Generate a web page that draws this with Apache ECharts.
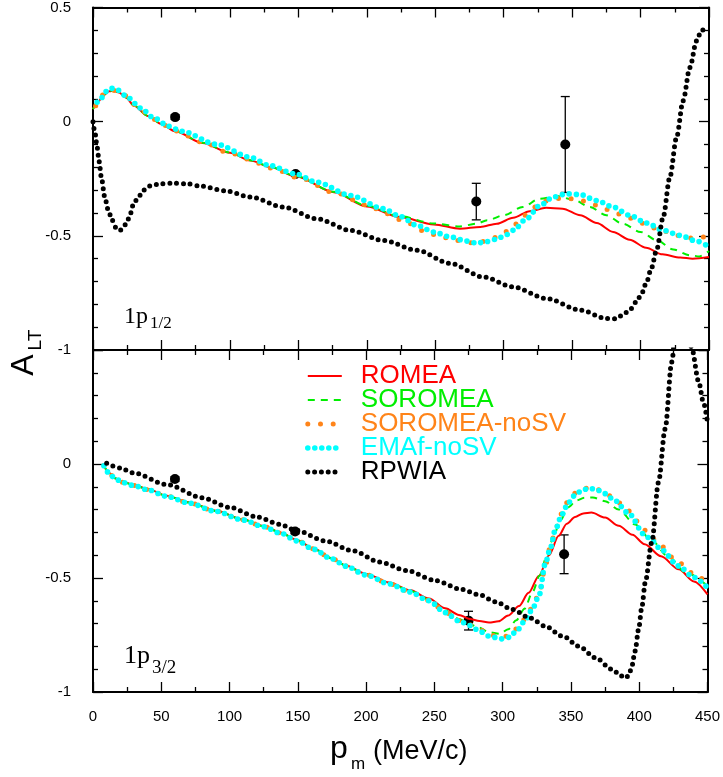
<!DOCTYPE html>
<html><head><meta charset="utf-8">
<script src="https://cdn.jsdelivr.net/npm/echarts@6/dist/echarts.min.js"></script>
<style>html,body{margin:0;padding:0;background:#fff}#c{width:723px;height:777px}</style>
</head><body><div id="c"></div>
<script>
const xTicks = [0, 50, 100, 150, 200, 250, 300, 350, 400, 450];
const yTicks = [-1, -0.5, 0, 0.5];
const modelNames = ['ROMEA', 'SOROMEA', 'SOROMEA-noSV', 'EMAf-noSV', 'RPWIA'];
const modelColors = ['#ff0000', '#00ee00', '#ff8419', '#00ffff', '#000000'];

// ---- top panel (1p1/2) ----
const topRomea = [[0,0.055],[4,0.09],[8,0.118],[12,0.133],[15,0.136],[19,0.128],[24,0.106],[30,0.07],[40,0.025],[50,-0.01],[60,-0.042],[80,-0.093],[100,-0.136],[115,-0.17],[130,-0.2],[148,-0.239],[176,-0.309],[200,-0.371],[224,-0.418],[249,-0.45],[268,-0.469],[283,-0.461],[295,-0.447],[307,-0.421],[319,-0.392],[331,-0.377],[343,-0.381],[356,-0.41],[368,-0.444],[380,-0.483],[392,-0.517],[404,-0.552],[416,-0.581],[429,-0.595],[438,-0.6],[450,-0.593]];
const topSoromea = [[0,0.055],[4,0.09],[8,0.118],[12,0.133],[15,0.137],[19,0.129],[24,0.107],[30,0.071],[40,0.026],[50,-0.009],[60,-0.041],[80,-0.092],[100,-0.135],[115,-0.169],[130,-0.199],[148,-0.238],[176,-0.307],[200,-0.368],[224,-0.414],[249,-0.446],[268,-0.459],[280,-0.447],[288,-0.432],[300,-0.41],[314,-0.374],[326,-0.338],[339,-0.326],[351,-0.342],[363,-0.374],[375,-0.41],[387,-0.447],[400,-0.483],[412,-0.52],[424,-0.56],[436,-0.585],[443,-0.59],[450,-0.566]];
const topNoSV = [[2,0.07],[8,0.12],[15,0.137],[22,0.12],[30,0.075],[45,0.01],[60,-0.04],[80,-0.09],[100,-0.138],[122,-0.182],[131,-0.205],[150,-0.245],[177.6,-0.313],[200,-0.365],[214.6,-0.403],[230,-0.445],[243,-0.482],[252,-0.5],[265,-0.52],[280,-0.532],[291,-0.514],[299.7,-0.488],[308,-0.45],[315.5,-0.41],[324,-0.371],[332.5,-0.345],[342,-0.335],[352,-0.338],[362,-0.352],[371,-0.374],[380,-0.396],[390,-0.418],[399,-0.44],[408,-0.464],[417,-0.48],[427,-0.498],[437,-0.51],[447,-0.505],[450,-0.503]];
const topEmaf = [[3,0.085],[5.3,0.099],[9.7,0.132],[13.9,0.146],[18,0.138],[26,0.103],[34.5,0.06],[44.7,0.016],[55.2,-0.02],[65,-0.042],[90,-0.099],[115,-0.156],[129,-0.192],[147.7,-0.228],[163.5,-0.265],[188,-0.323],[212,-0.381],[224.4,-0.415],[236.5,-0.454],[248.8,-0.483],[261,-0.505],[273,-0.523],[280.3,-0.532],[288,-0.525],[295,-0.514],[301,-0.498],[307,-0.476],[316.8,-0.425],[326.5,-0.367],[336.3,-0.33],[346,-0.316],[355.7,-0.319],[367.9,-0.345],[380,-0.374],[392,-0.41],[404.4,-0.444],[416.5,-0.476],[428.7,-0.498],[440.9,-0.523],[450,-0.549]];
const topRpwia = [[0,0],[1.5,-0.05],[3,-0.112],[4.5,-0.175],[6,-0.24],[8.6,-0.33],[11,-0.385],[14,-0.432],[17.5,-0.472],[20,-0.475],[22,-0.466],[24.8,-0.44],[27.3,-0.403],[29.6,-0.36],[33.3,-0.328],[37,-0.3],[41.8,-0.281],[49,-0.272],[58.8,-0.269],[68.6,-0.272],[78.3,-0.282],[97.6,-0.304],[115,-0.33],[139,-0.374],[163.5,-0.425],[188,-0.476],[212,-0.52],[236.5,-0.563],[261,-0.621],[285,-0.68],[307,-0.724],[331,-0.774],[356,-0.825],[375,-0.862],[382,-0.863],[387,-0.847],[392,-0.825],[397,-0.789],[401,-0.75],[404.4,-0.702],[408,-0.64],[411.7,-0.563],[416.5,-0.418],[421.4,-0.243],[426.3,-0.069],[431.1,0.092],[436,0.237],[440.9,0.354],[444.5,0.4],[447,0.405],[450,0.397]];
const topDataX = [60, 148, 280, 345];
const topDataY = [0.02, -0.229, -0.35, -0.10];
const topDataErr = [0.01, 0.01, 0.08, 0.21];

// ---- bottom panel (1p3/2) ----
const botRomea = [[8,-0.007],[12,-0.04],[16,-0.062],[22,-0.078],[30,-0.092],[40,-0.11],[54,-0.139],[70,-0.168],[90,-0.205],[110,-0.243],[125,-0.272],[137,-0.3],[150,-0.335],[161,-0.37],[175,-0.413],[185,-0.445],[200,-0.482],[217,-0.52],[232,-0.553],[246,-0.59],[258,-0.633],[268,-0.662],[276,-0.68],[283,-0.689],[290,-0.695],[297,-0.69],[304,-0.665],[312,-0.623],[319,-0.565],[326.5,-0.491],[334,-0.4],[341,-0.315],[347,-0.262],[353,-0.232],[359,-0.217],[365,-0.213],[375,-0.235],[385,-0.271],[395,-0.31],[404,-0.352],[416,-0.405],[429,-0.462],[440,-0.515],[450,-0.572]];
const botSoromea = [[8,-0.007],[12,-0.041],[16,-0.063],[22,-0.079],[30,-0.093],[40,-0.111],[54,-0.14],[70,-0.169],[90,-0.206],[110,-0.244],[125,-0.273],[137,-0.301],[150,-0.336],[161,-0.371],[175,-0.414],[185,-0.446],[200,-0.484],[217,-0.522],[232,-0.556],[246,-0.594],[258,-0.642],[268,-0.68],[276,-0.703],[283,-0.718],[290,-0.738],[298,-0.745],[304,-0.725],[310,-0.685],[316,-0.635],[322,-0.56],[327,-0.49],[332,-0.41],[337,-0.325],[342,-0.25],[348,-0.19],[354,-0.16],[360,-0.148],[366,-0.147],[375,-0.163],[385,-0.2],[397,-0.265],[409,-0.335],[421,-0.405],[434,-0.475],[450,-0.535]];
const botNoSV = [[8,-0.008],[12,-0.041],[16,-0.063],[22,-0.08],[30,-0.094],[40,-0.112],[54,-0.141],[70,-0.17],[90,-0.207],[110,-0.245],[125,-0.274],[137,-0.302],[150,-0.337],[161,-0.372],[175,-0.415],[185,-0.447],[200,-0.486],[217,-0.525],[232,-0.56],[246,-0.598],[258,-0.65],[268,-0.686],[276,-0.706],[283,-0.725],[290,-0.748],[299,-0.76],[305,-0.752],[311,-0.72],[317,-0.675],[322,-0.625],[327,-0.56],[331.5,-0.44],[335,-0.36],[339,-0.28],[343.5,-0.215],[348,-0.162],[353,-0.128],[358,-0.11],[363,-0.105],[368,-0.108],[375,-0.125],[382,-0.155],[392,-0.205],[404,-0.29],[416,-0.36],[428,-0.43],[440,-0.48],[450,-0.528]];
const botEmaf = [[8,-0.008],[12,-0.042],[16,-0.064],[22,-0.081],[30,-0.095],[40,-0.113],[54,-0.142],[70,-0.171],[90,-0.208],[110,-0.246],[125,-0.275],[137,-0.303],[150,-0.338],[161,-0.373],[175,-0.416],[185,-0.448],[200,-0.487],[217,-0.526],[232,-0.561],[246,-0.6],[258,-0.652],[268,-0.688],[276,-0.708],[283,-0.733],[290,-0.755],[299,-0.767],[305,-0.76],[311,-0.726],[317,-0.682],[321.6,-0.638],[326.5,-0.58],[331.4,-0.433],[335,-0.367],[338.7,-0.286],[343.5,-0.22],[348,-0.17],[353.3,-0.135],[358,-0.115],[363,-0.107],[368,-0.11],[375,-0.13],[382,-0.16],[392,-0.215],[404,-0.31],[409,-0.335],[416,-0.375],[428.8,-0.447],[440,-0.497],[450,-0.543]];
const botRpwia = [[10,0.003],[20,-0.018],[30,-0.04],[54,-0.09],[80,-0.148],[100,-0.19],[120,-0.232],[137,-0.265],[148,-0.29],[170,-0.337],[190,-0.38],[210,-0.43],[230,-0.468],[250,-0.51],[270,-0.55],[283,-0.574],[295,-0.605],[307,-0.638],[320,-0.675],[331,-0.711],[344,-0.755],[356,-0.8],[368,-0.85],[380,-0.9],[387,-0.93],[390,-0.939],[392.5,-0.925],[394.6,-0.887],[397,-0.82],[399.5,-0.726],[402,-0.625],[404.4,-0.52],[409.2,-0.344],[414.1,-0.081],[419,0.154],[423.8,0.447],[427,0.6],[431,0.7],[435,0.63],[438.4,0.51],[443.6,0.36],[447,0.27],[450,0.183]];
const botDataX = [60, 148, 275, 345];
const botDataY = [-0.066, -0.296, -0.687, -0.396];
const botDataErr = [0.01, 0.01, 0.041, 0.085];

const lineStyles = {
  'ROMEA': {width: 2, type: 'solid', cap: 'butt'},
  'SOROMEA': {width: 2, type: [7, 6], cap: 'butt'},
  'SOROMEA-noSV': {width: 5, type: [0, 12.7], cap: 'round'},
  'EMAf-noSV': {width: 5.6, type: [0, 7], cap: 'round'},
  'RPWIA': {width: 5, type: [0, 6.8], cap: 'round'}
};

const FONT = 'Liberation Sans';
const SERIF = 'Liberation Serif';

function mkLine(name, data, g) {
  const i = modelNames.indexOf(name);
  return {
    type: 'line', name: name, data: data, xAxisIndex: g * 2, yAxisIndex: g * 2,
    showSymbol: false, symbol: 'none', smooth: 0.3, smoothMonotone: 'x', clip: true,
    z: 3 + i, lineStyle: Object.assign({color: modelColors[i]}, lineStyles[name]),
    emphasis: {disabled: true}, silent: true
  };
}
function mkPoints(xs, ys, g) {
  return {type: 'scatter', xAxisIndex: g * 2, yAxisIndex: g * 2, symbol: 'circle', symbolSize: 10,
    itemStyle: {color: '#000', opacity: 1}, z: 2, silent: true,
    data: xs.map((x, i) => [x, ys[i]])};
}
function mkErr(xs, ys, es, g) {
  return {type: 'custom', xAxisIndex: g * 2, yAxisIndex: g * 2, z: 1, silent: true,
    data: xs.map((x, i) => [x, ys[i], es[i]]),
    encode: {x: 0, y: 1},
    renderItem: function (params, api) {
      const x = api.value(0), y = api.value(1), e = api.value(2);
      const p1 = api.coord([x, y + e]), p2 = api.coord([x, y - e]);
      const w = 4.5, st = {stroke: '#000', lineWidth: 1.3};
      return {type: 'group', children: [
        {type: 'line', shape: {x1: p1[0], y1: p1[1], x2: p2[0], y2: p2[1]}, style: st},
        {type: 'line', shape: {x1: p1[0] - w, y1: p1[1], x2: p1[0] + w, y2: p1[1]}, style: st},
        {type: 'line', shape: {x1: p2[0] - w, y1: p2[1], x2: p2[0] + w, y2: p2[1]}, style: st}
      ]};
    }};
}
function xAx(g, pos, labels) {
  return {type: 'value', gridIndex: g, position: pos,
    min: xTicks[0], max: xTicks[xTicks.length - 1], interval: xTicks[1] - xTicks[0],
    axisLine: {show: true, onZero: false, lineStyle: {color: '#000', width: 2}},
    axisTick: {show: true, inside: true, length: 10, lineStyle: {color: '#000', width: 1.3}},
    minorTick: {show: true, splitNumber: 2, length: 5, lineStyle: {color: '#000', width: 1.3}},
    splitLine: {show: false}, minorSplitLine: {show: false},
    axisLabel: {show: labels, color: '#000', fontSize: 15, fontFamily: FONT, margin: 17}
  };
}
function yAx(g, pos, labels, hideMax) {
  return {type: 'value', gridIndex: g, position: pos,
    min: yTicks[0], max: yTicks[yTicks.length - 1], interval: yTicks[1] - yTicks[0],
    axisLine: {show: true, onZero: false, lineStyle: {color: '#000', width: 2}},
    axisTick: {show: true, inside: true, length: 10, lineStyle: {color: '#000', width: 1.3}},
    minorTick: {show: true, splitNumber: 5, length: 5, lineStyle: {color: '#000', width: 1.3}},
    splitLine: {show: false}, minorSplitLine: {show: false},
    axisLabel: {show: labels, showMaxLabel: !hideMax, showMinLabel: true, color: '#000',
      fontSize: 15, fontFamily: FONT, margin: 22}
  };
}

const chart = echarts.init(document.getElementById('c'), null, {renderer: 'canvas'});
chart.setOption({
  animation: false,
  backgroundColor: '#fff',
  textStyle: {fontFamily: FONT},
  grid: [
    {left: 93, right: 14, top: 7, height: 343},
    {left: 93, right: 14, top: 350, height: 342}
  ],
  xAxis: [xAx(0, 'bottom', false), xAx(0, 'top', false), xAx(1, 'bottom', true), xAx(1, 'top', false)],
  yAxis: [yAx(0, 'left', true, false), yAx(0, 'right', false, false), yAx(1, 'left', true, true), yAx(1, 'right', false, false)],
  legend: {
    orient: 'vertical', left: 300, top: 358, itemWidth: 34, itemHeight: 20, itemGap: -2,
    selectedMode: false,
    data: modelNames.map((n, i) => ({name: n, textStyle: {color: modelColors[i]}})),
    textStyle: {fontSize: 26, fontFamily: FONT, lineHeight: 20, padding: [0, 0, 0, 14]},
    itemStyle: {opacity: 0},
    lineStyle: {width: 'inherit'}
  },
  series: [
    mkErr(topDataX, topDataY, topDataErr, 0), mkPoints(topDataX, topDataY, 0),
    mkLine('ROMEA', topRomea, 0), mkLine('SOROMEA', topSoromea, 0), mkLine('SOROMEA-noSV', topNoSV, 0),
    mkLine('EMAf-noSV', topEmaf, 0), mkLine('RPWIA', topRpwia, 0),
    mkErr(botDataX, botDataY, botDataErr, 1), mkPoints(botDataX, botDataY, 1),
    mkLine('ROMEA', botRomea, 1), mkLine('SOROMEA', botSoromea, 1), mkLine('SOROMEA-noSV', botNoSV, 1),
    mkLine('EMAf-noSV', botEmaf, 1), mkLine('RPWIA', botRpwia, 1)
  ],
  graphic: [
    {type: 'text', x: 24, y: 365, rotation: Math.PI / 2, style: {text: 'A', fontSize: 32, fontFamily: FONT, fill: '#000', align: 'center', verticalAlign: 'middle'}},
    {type: 'text', x: 36, y: 340, rotation: Math.PI / 2, style: {text: 'LT', fontSize: 19, fontFamily: FONT, fill: '#000', align: 'center', verticalAlign: 'middle'}},
    {type: 'text', x: 330, y: 749.5, style: {text: 'p', fontSize: 32, fontFamily: FONT, fill: '#000', align: 'left', verticalAlign: 'middle'}},
    {type: 'text', x: 351, y: 764, style: {text: 'm', fontSize: 17, fontFamily: FONT, fill: '#000', align: 'left', verticalAlign: 'middle'}},
    {type: 'text', x: 373, y: 751.5, style: {text: '(MeV/c)', fontSize: 27, fontFamily: FONT, fill: '#000', align: 'left', verticalAlign: 'middle'}},
    {type: 'text', x: 124, y: 317, style: {text: '1p', fontSize: 24, fontFamily: SERIF, fill: '#000', align: 'left', verticalAlign: 'middle'}},
    {type: 'text', x: 150, y: 324, style: {text: '1/2', fontSize: 17, fontFamily: SERIF, fill: '#000', align: 'left', verticalAlign: 'middle'}},
    {type: 'text', x: 124, y: 656, style: {text: '1p', fontSize: 26, fontFamily: SERIF, fill: '#000', align: 'left', verticalAlign: 'middle'}},
    {type: 'text', x: 152, y: 668, style: {text: '3/2', fontSize: 19, fontFamily: SERIF, fill: '#000', align: 'left', verticalAlign: 'middle'}}
  ]
});
</script>
</body></html>
